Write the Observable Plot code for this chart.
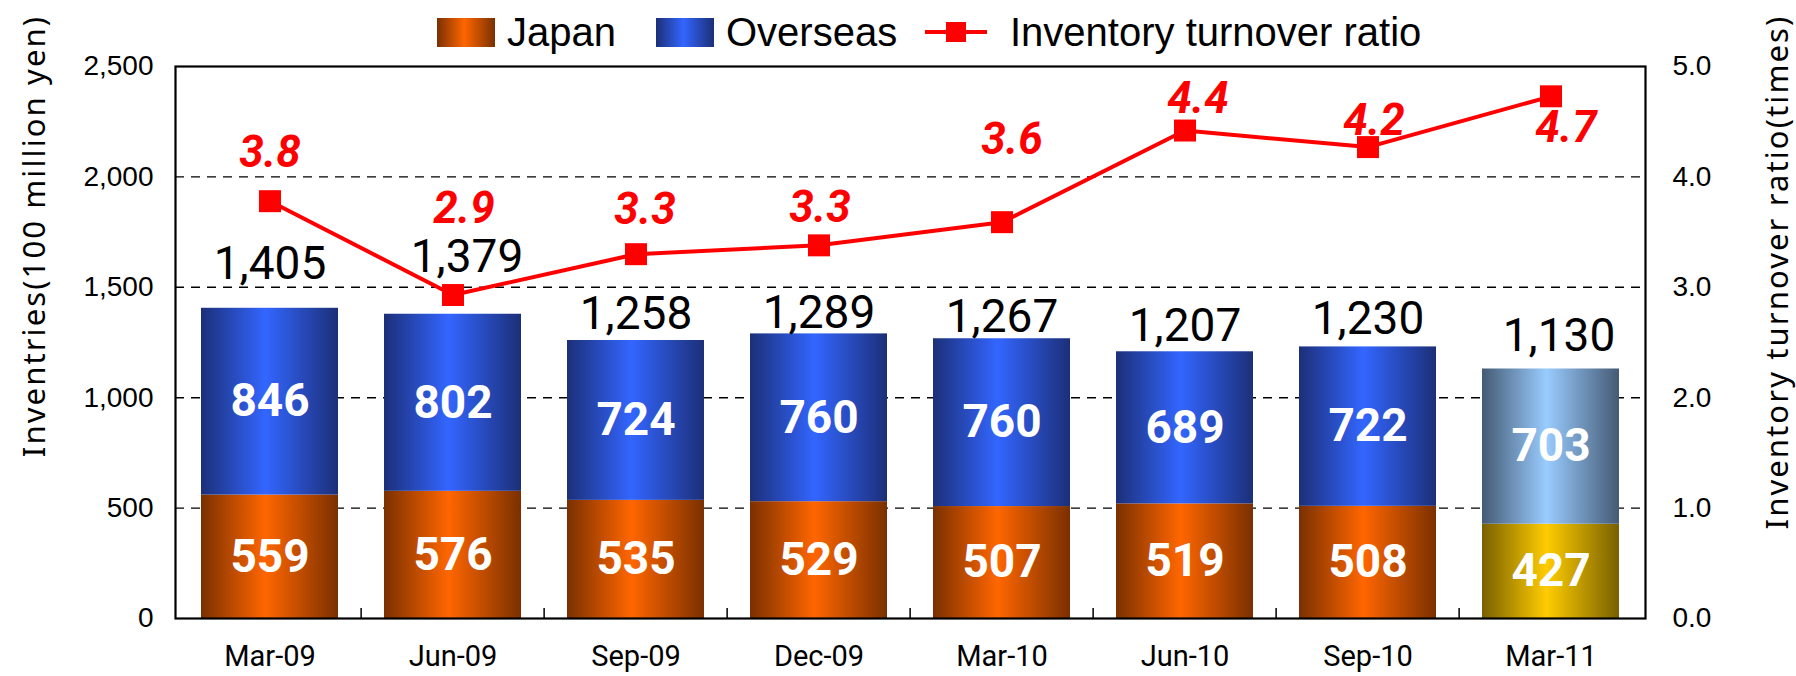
<!DOCTYPE html>
<html>
<head>
<meta charset="utf-8">
<script src="https://cdn.jsdelivr.net/npm/d3@7"></script>
<script src="https://cdn.jsdelivr.net/npm/@observablehq/plot@0.6"></script>
<style>
  html, body { margin: 0; padding: 0; background: #fff; }
  #wrap { position: relative; width: 1796px; height: 676px; overflow: hidden; }
  #legend { position: absolute; top: 0; left: 0; width: 1796px; height: 60px; font-family: "Liberation Sans", sans-serif; font-size: 40px; color: #000; }
  .item { position: absolute; top: 10px; height: 44px; display: flex; align-items: center; white-space: nowrap; }
  .sw { width: 58px; height: 29px; margin-right: 12px; }
  .ltitle { position: absolute; font-family: "Noto Sans", sans-serif; font-size: 31px; letter-spacing: 2.1px; white-space: nowrap; transform: translate(-50%, -50%) rotate(-90deg); color: #000; }
</style>
</head>
<body>
<div id="wrap">
  <div id="chart"></div>
  <div id="legend"></div>
  <div class="ltitle" id="ytitleL"></div>
  <div class="ltitle" id="ytitleR"></div>
</div>
<script>
// ---- data ----
const categories = ["Mar-09", "Jun-09", "Sep-09", "Dec-09", "Mar-10", "Jun-10", "Sep-10", "Mar-11"];
const japan = [559, 576, 535, 529, 507, 519, 508, 427];
const overseas = [846, 802, 724, 760, 760, 689, 722, 703];
const totalLabels = ["1,405", "1,379", "1,258", "1,289", "1,267", "1,207", "1,230", "1,130"];
const ratio = [3.78, 2.93, 3.30, 3.38, 3.59, 4.42, 4.27, 4.73];
const ratioLabels = ["3.8", "2.9", "3.3", "3.3", "3.6", "4.4", "4.2", "4.7"];
const leftTicks = [0, 500, 1000, 1500, 2000, 2500];
const rightTickLabels = ["0.0", "1.0", "2.0", "3.0", "4.0", "5.0"];
const seriesNames = ["Japan", "Overseas", "Inventory turnover ratio"];
const leftTitle = "Inventries(100 million yen)";
const rightTitle = "Inventory turnover ratio(times)";
const latestPeriod = "Mar-11";

// ---- layout / style (not data) ----
const W = 1796, H = 676;
const mt = 66, mb = 58, ml = 175, mr = 151;
const ratioToLeft = 2500 / 5;
const ratioLabelDx = [0, 11, 9, 1, 10, 13, 6, 15];
const ratioLabelDy = [-48, -86, -44, -37, -82, -32, -26, 32];
const totalDx = [0, 14, 0, 0, 0, 0, 0, 8];
const totalLift = [29, 42, 12, 6, 7, 11, 13, 18];
const legendLeft = [437, 656, 925];
const numFont = "Roboto, 'Liberation Sans', sans-serif";
const tickFont = "'Liberation Sans', Arial, sans-serif";

const rows = categories.map((c, i) => ({
  period: c, japan: japan[i], overseas: overseas[i],
  top: japan[i] + overseas[i], totalLabel: totalLabels[i],
  ratio: ratio[i], ratioLabel: ratioLabels[i], i
}));
const normal = rows.filter(d => d.period !== latestPeriod);
const latest = rows.filter(d => d.period === latestPeriod);

const nBands = categories.length;
const step = (W - ml - mr) / nBands;

const marks = [
  Plot.gridY(leftTicks.filter(t => t > 0 && t < 2500), {stroke: "#000", strokeOpacity: 1, strokeWidth: 1.4, strokeDasharray: "9,7"}),
  Plot.barY(normal, {x: "period", y1: d => 0, y2: "japan", fill: "url(#gJapan)"}),
  Plot.barY(normal, {x: "period", y1: "japan", y2: "top", fill: "url(#gOver)"}),
  Plot.barY(latest, {x: "period", y1: d => 0, y2: "japan", fill: "url(#gJapan2)"}),
  Plot.barY(latest, {x: "period", y1: "japan", y2: "top", fill: "url(#gOver2)"}),
  Plot.ruleX(categories.slice(1), {x: d => d, y1: d => 0, y2: d => 45, dx: -step / 2, stroke: "#000", strokeWidth: 1.5}),
  Plot.frame({stroke: "#000", strokeWidth: 2.2}),
  Plot.axisY(leftTicks, {anchor: "left", tickSize: 0, tickPadding: 22, tickFormat: d3.format(","), fontSize: 28, fontFamily: tickFont, label: null}),
  Plot.axisY(leftTicks, {anchor: "right", tickSize: 0, tickPadding: 27, tickFormat: d => rightTickLabels[leftTicks.indexOf(d)], fontSize: 28, fontFamily: tickFont, label: null}),
  Plot.axisX({tickSize: 0, tickPadding: 27, fontSize: 29, fontFamily: numFont, label: null}),
  Plot.text(rows, {x: "period", y: d => d.japan / 2, text: d => String(d.japan), fill: "#fff", fontSize: 46, fontWeight: "bold", fontFamily: numFont, letterSpacing: 1}),
  Plot.text(rows, {x: "period", y: d => d.japan + d.overseas / 2, text: d => String(d.overseas), fill: "#fff", fontSize: 46, fontWeight: "bold", fontFamily: numFont, letterSpacing: 1}),
  Plot.line(rows, {x: "period", y: d => d.ratio * ratioToLeft, stroke: "#ff0000", strokeWidth: 4}),
  Plot.dot(rows, {x: "period", y: d => d.ratio * ratioToLeft, symbol: "square", r: 12.4, fill: "#ff0000", stroke: "none"})
];
rows.forEach((d, i) => {
  marks.push(Plot.text([d], {x: "period", y: "top", text: "totalLabel", dx: totalDx[i], dy: -totalLift[i], lineAnchor: "bottom", fill: "#000", fontSize: 46, fontFamily: numFont}));
  marks.push(Plot.text([d], {x: "period", y: dd => dd.ratio * ratioToLeft, text: "ratioLabel", dx: ratioLabelDx[i], dy: ratioLabelDy[i], fill: "#ff0000", fontSize: 44, fontWeight: "bold", fontStyle: "italic", fontFamily: numFont, letterSpacing: 2}));
});

const chart = Plot.plot({
  width: W, height: H,
  marginTop: mt, marginBottom: mb, marginLeft: ml, marginRight: mr,
  x: {type: "band", domain: categories, paddingInner: 0.25, paddingOuter: 0.125},
  y: {domain: [0, 2500]},
  style: {background: "#fff", color: "#000", overflow: "visible"},
  marks
});

// gradients
const grads = [
  ["gJapan", "#7a3000", "#ff6600"],
  ["gOver", "#1c2f78", "#3366ff"],
  ["gJapan2", "#786000", "#ffcc00"],
  ["gOver2", "#455a74", "#99ccff"]
];
const defs = d3.select(chart).insert("defs", ":first-child");
grads.forEach(([id, edge, mid]) => {
  const g = defs.append("linearGradient").attr("id", id).attr("x1", 0).attr("x2", 1).attr("y1", 0).attr("y2", 0);
  g.append("stop").attr("offset", "0%").attr("stop-color", edge);
  g.append("stop").attr("offset", "47%").attr("stop-color", mid);
  g.append("stop").attr("offset", "100%").attr("stop-color", edge);
});
document.getElementById("chart").appendChild(chart);

// legend
const legend = document.getElementById("legend");
const swatchGrad = {Japan: ["#7a3000", "#ff6600"], Overseas: ["#1c2f78", "#3366ff"]};
seriesNames.forEach((name, k) => {
  const item = document.createElement("div");
  item.className = "item";
  item.style.left = legendLeft[k] + "px";
  if (swatchGrad[name]) {
    const sw = document.createElement("div");
    sw.className = "sw";
    const [e, m] = swatchGrad[name];
    sw.style.background = `linear-gradient(to right, ${e} 0%, ${m} 47%, ${e} 100%)`;
    item.appendChild(sw);
  } else {
    const svgNS = "http://www.w3.org/2000/svg";
    const s = document.createElementNS(svgNS, "svg");
    s.setAttribute("width", 62); s.setAttribute("height", 30); s.style.marginRight = "23px";
    const ln = document.createElementNS(svgNS, "line");
    ln.setAttribute("x1", 0); ln.setAttribute("x2", 62); ln.setAttribute("y1", 15); ln.setAttribute("y2", 15);
    ln.setAttribute("stroke", "#ff0000"); ln.setAttribute("stroke-width", 4);
    const rc = document.createElementNS(svgNS, "rect");
    rc.setAttribute("x", 21); rc.setAttribute("y", 5); rc.setAttribute("width", 20); rc.setAttribute("height", 20); rc.setAttribute("fill", "#ff0000");
    s.appendChild(ln); s.appendChild(rc);
    item.appendChild(s);
  }
  const t = document.createElement("span");
  t.textContent = name;
  item.appendChild(t);
  legend.appendChild(item);
});

const tl = document.getElementById("ytitleL");
tl.textContent = leftTitle; tl.style.left = "33px"; tl.style.top = "236px";
const tr = document.getElementById("ytitleR");
tr.textContent = rightTitle; tr.style.left = "1776px"; tr.style.top = "272px";
</script>
</body>
</html>
